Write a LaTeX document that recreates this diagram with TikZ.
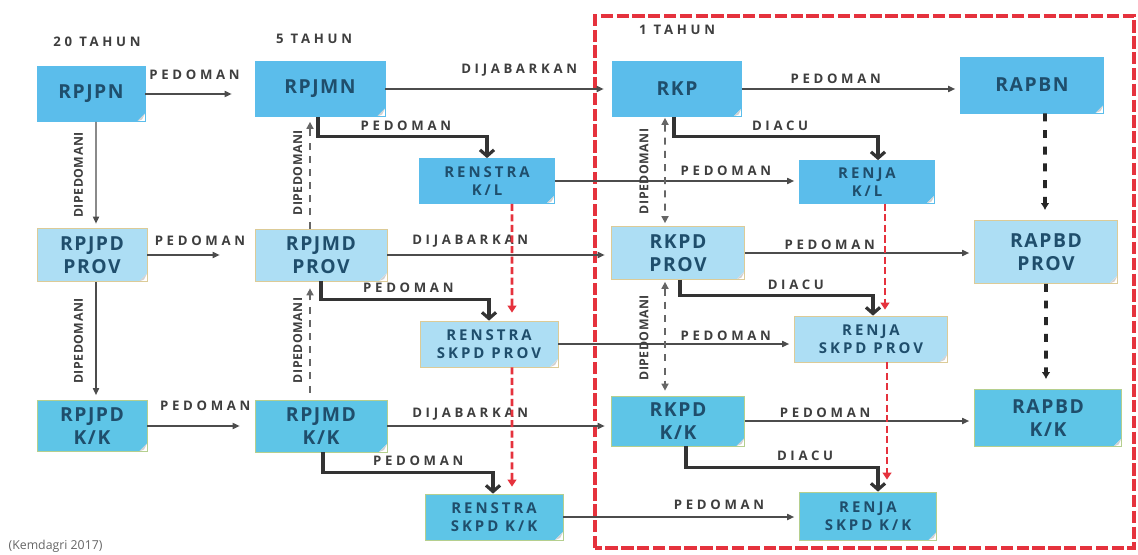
\documentclass[tikz,border=0pt]{standalone}
\usepackage{fontspec}
\setmainfont{Open Sans}[LetterSpace=8]
\newfontfamily\lblfont{Open Sans}[LetterSpace=28]
\newfontfamily\vlblfont{Open Sans}[LetterSpace=4]
\newfontfamily\smallfont{Open Sans}[LetterSpace=20]
\newfontfamily\srcfont{Open Sans}
\usetikzlibrary{arrows.meta}
\definecolor{natblue}{HTML}{5BBDEB}
\definecolor{provblue}{HTML}{ADDEF4}
\definecolor{kkblue}{HTML}{5EC5E7}
\definecolor{provedge}{HTML}{DCCB97}
\definecolor{kkedge}{HTML}{B5CF8E}
\definecolor{boxtext}{HTML}{1F4E6C}
\definecolor{lbltext}{HTML}{3E3E3E}
\definecolor{framered}{HTML}{E5323D}
\tikzstyle{box}=[rectangle,align=center,inner sep=1pt,text=boxtext,font=\bfseries\fontsize{11}{13}\selectfont,
	path picture={\fill[white] (path picture bounding box.south east) -- ++(-.16,0) -- ++(.16,.16) -- cycle;
		\fill[black!18] (path picture bounding box.south east) ++(-.16,0) -- ++(.16,.16) -- ++(-.06,-.12) -- cycle;}]
\tikzstyle{smallbox}=[box,font=\smallfont\bfseries\fontsize{8.5}{10.5}\selectfont]
\tikzstyle{nat}=[fill=natblue,draw=natblue]
\tikzstyle{prov}=[fill=provblue,draw=provedge]
\tikzstyle{kk}=[fill=kkblue,draw=kkedge]
\tikzstyle{lbl}=[font=\lblfont\bfseries\fontsize{7.5}{8}\selectfont,text=lbltext,inner sep=1pt]
\tikzstyle{vlbl}=[font=\vlblfont\bfseries\fontsize{7}{8}\selectfont,text=lbltext,inner sep=1pt,rotate=90]
\tikzstyle{ttl}=[font=\lblfont\bfseries\fontsize{7.5}{9}\selectfont,text=lbltext]
\tikzstyle{garr}=[draw=black!70,line width=.8pt,-{Triangle[length=4pt,width=3.5pt]}]
\tikzstyle{thk}=[draw=black!80,line width=1.8pt,-{Straight Barb[length=3.5pt,width=8pt]}]
\tikzstyle{gdash}=[draw=black!60,line width=.9pt,dash pattern=on 4pt off 3.5pt,{Triangle[length=4pt,width=4pt]}-{Triangle[length=4pt,width=4pt]}]
\tikzstyle{gdashup}=[draw=black!60,line width=.9pt,dash pattern=on 4pt off 3.5pt,-{Triangle[length=4pt,width=4pt]}]
\tikzstyle{bdash}=[draw=black!85,line width=2.2pt,dash pattern=on 4.5pt off 5pt,-{Latex[length=4pt,width=5pt]}]
\tikzstyle{rdash}=[draw=framered,line width=1.5pt,dash pattern=on 4pt off 2pt,-{Triangle[length=4pt,width=5pt]}]

\begin{document}
\begin{tikzpicture}
	\useasboundingbox (0,0) rectangle (22.76,11.08);
	\draw[framered,line width=1.8pt,dash pattern=on 7pt off 2pt] (11.9,0.12) rectangle (22.68,10.76);
	\node[ttl] (t20) at (1.94,10.24) {20 TAHUN};
	\node[ttl] (t5) at (6.28,10.3) {5 TAHUN};
	\node[ttl] (t1) at (13.54,10.48) {1 TAHUN};
	\node[anchor=west,font=\srcfont\fontsize{7}{8}\selectfont,text=black!60] (src) at (0.05,0.16) {(Kemdagri 2017)};
	\node[box,nat,minimum width=2.16cm,minimum height=1.1cm] (rpjpn) at (1.82,9.2) {RPJPN};
	\node[box,nat,minimum width=2.6cm,minimum height=1.1cm] (rpjmn) at (6.4,9.3) {RPJMN};
	\node[box,nat,minimum width=2.58cm,minimum height=1.1cm] (rkp) at (13.54,9.3) {RKP};
	\node[box,nat,minimum width=2.86cm,minimum height=1.12cm] (rapbn) at (20.64,9.38) {RAPBN};
	\node[smallbox,nat,minimum width=2.7cm,minimum height=.9cm] (renkl) at (9.74,7.46) {RENSTRA\\K/L};
	\node[smallbox,nat,minimum width=2.7cm,minimum height=.86cm] (renjakl) at (17.34,7.44) {RENJA\\K/L};
	\node[box,prov,minimum width=2.2cm,minimum height=1.06cm] (rpjpdp) at (1.84,5.98) {RPJPD\\PROV};
	\node[box,prov,minimum width=2.64cm,minimum height=1.04cm] (rpjmdp) at (6.42,5.98) {RPJMD\\PROV};
	\node[box,prov,minimum width=2.66cm,minimum height=1.06cm] (rkpdp) at (13.56,6.02) {RKPD\\PROV};
	\node[box,prov,minimum width=2.86cm,minimum height=1.26cm] (rapbdp) at (20.92,6.04) {RAPBD\\PROV};
	\node[smallbox,prov,minimum width=2.76cm,minimum height=.92cm] (renp) at (9.78,4.2) {RENSTRA\\SKPD PROV};
	\node[smallbox,prov,minimum width=3.06cm,minimum height=.92cm] (renjap) at (17.42,4.3) {RENJA\\SKPD PROV};
	\node[box,kk,minimum width=2.2cm,minimum height=1.02cm] (rpjpdk) at (1.84,2.56) {RPJPD\\K/K};
	\node[box,kk,minimum width=2.64cm,minimum height=1.04cm] (rpjmdk) at (6.42,2.56) {RPJMD\\K/K};
	\node[box,kk,minimum width=2.66cm,minimum height=1cm] (rkpdk) at (13.56,2.66) {RKPD\\K/K};
	\node[box,kk,minimum width=2.94cm,minimum height=1.14cm] (rapbdk) at (20.96,2.72) {RAPBD\\K/K};
	\node[smallbox,kk,minimum width=2.76cm,minimum height=.92cm] (renk) at (9.88,.74) {RENSTRA\\SKPD K/K};
	\node[smallbox,kk,minimum width=2.74cm,minimum height=.96cm] (renjak) at (17.36,.76) {RENJA\\SKPD K/K};

	\draw[garr,shorten >=.46cm] (rpjpn.east) -- node[lbl,pos=.45,above=7pt] {PEDOMAN} (rpjpn.east -| rpjmn.west);
	\draw[garr,shorten >=.17cm] (rpjmn.east) -- node[lbl,pos=.59,above=6pt] {DIJABARKAN} (rpjmn.east -| rkp.west);
	\draw[garr,shorten >=.1cm] (rkp.east) -- node[lbl,pos=.43,above=1.5pt] {PEDOMAN} (rkp.east -| rapbn.west);
	\draw[garr,shorten >=.1cm] (renkl.east) -- node[lbl,pos=.7,above=1.5pt] {PEDOMAN} (renkl.east -| renjakl.west);
	\draw[garr,shorten >=.7cm] (rpjpdp.east) -- node[lbl,pos=.49,above=4pt] {PEDOMAN} (rpjpdp.east -| rpjmdp.west);
	\draw[garr,shorten >=.13cm] (rpjmdp.east) -- node[lbl,pos=.37,above=3pt] {DIJABARKAN} (rpjmdp.east -| rkpdp.west);
	\draw[garr,shorten >=.1cm] (rkpdp.east) -- node[lbl,pos=.37,above=.5pt] {PEDOMAN} (rkpdp.east -| rapbdp.west);
	\draw[garr,shorten >=.1cm] (renp.east) -- node[lbl,pos=.71,above=.5pt] {PEDOMAN} (renp.east -| renjap.west);
	\draw[garr,shorten >=.3cm] (rpjpdk.east) -- node[lbl,pos=.54,above=7.5pt] {PEDOMAN} (rpjpdk.east -| rpjmdk.west);
	\draw[garr,shorten >=.13cm] (rpjmdk.east) -- node[lbl,pos=.37,above=2pt] {DIJABARKAN} (rpjmdk.east -| rkpdk.west);
	\draw[garr,shorten >=.1cm] (rkpdk.east) -- node[lbl,pos=.35,above=.5pt] {PEDOMAN} (rkpdk.east -| rapbdk.west);
	\draw[garr,shorten >=.1cm] (renk.east) -- node[lbl,pos=.66,above=3pt] {PEDOMAN} (renk.east -| renjak.west);

	\draw[garr,shorten >=.09cm] ([xshift=.1cm]rpjpn.south) -- node[vlbl,above=6pt] {DIPEDOMANI} ([xshift=.08cm]rpjpdp.north);
	\draw[garr,shorten >=.1cm] ([xshift=.08cm]rpjpdp.south) -- node[vlbl,above=6pt] {DIPEDOMANI} ([xshift=.08cm]rpjpdk.north);
	\draw[gdashup,shorten >=.1cm] ([xshift=-.22cm]rpjmdp.north) -- node[vlbl,above=3pt] {DIPEDOMANI} ([xshift=-.2cm]rpjmn.south);
	\draw[gdashup,shorten >=.14cm,shorten <=.14cm] ([xshift=-.22cm]rpjmdk.north) -- node[vlbl,above=3pt] {DIPEDOMANI} ([xshift=-.22cm]rpjmdp.south);
	\draw[gdash,shorten >=.06cm,shorten <=.02cm] ([xshift=-.24cm]rkp.south) -- node[vlbl,above=8pt] {DIPEDOMANI} ([xshift=-.26cm]rkpdp.north);
	\draw[gdash,shorten >=.1cm,shorten <=.04cm] ([xshift=-.26cm]rkpdp.south) -- node[vlbl,above=8pt] {DIPEDOMANI} ([xshift=-.26cm]rkpdk.north);

	\draw[thk] ([xshift=-.04cm]rpjmn.south) -- ++(0,-.4) -| node[lbl,pos=.26,above=1.5pt] {PEDOMAN} (renkl.north);
	\draw[thk] (rpjmdp.south) -- ++(0,-.36) -| node[lbl,pos=.26,above=2pt] {PEDOMAN} (renp.north);
	\draw[thk] ([xshift=.04cm]rpjmdk.south) -- ++(0,-.4) -| node[lbl,pos=.28,above=2pt] {PEDOMAN} ([xshift=-.02cm]renk.north);
	\draw[thk] ([xshift=-.06cm]rkp.south) -- ++(0,-.4) -| node[lbl,pos=.26,above=1.5pt] {DIACU} ([xshift=.22cm]renjakl.north);
	\draw[thk] ([xshift=.04cm]rkpdp.south) -- ++(0,-.32) -| node[lbl,pos=.3,above=1.5pt] {DIACU} ([xshift=.04cm]renjap.north);
	\draw[thk] ([xshift=.16cm]rkpdk.south) -- ++(0,-.42) -| node[lbl,pos=.31,above=2pt] {DIACU} ([xshift=.2cm]renjak.north);

	\draw[bdash,shorten >=.2cm] ([xshift=.26cm]rapbn.south) -- ([xshift=-.02cm]rapbdp.north);
	\draw[bdash,shorten >=.2cm] (rapbdp.south) -- ([xshift=-.04cm]rapbdk.north);

	\draw[rdash,shorten >=.16cm] ([xshift=.5cm]renkl.south) -- ([xshift=.46cm]renp.north);
	\draw[rdash,shorten >=.14cm] ([xshift=.46cm]renp.south) -- ([xshift=.36cm]renk.north);
	\draw[rdash,shorten >=.12cm] ([xshift=.36cm]renjakl.south) -- ([xshift=.28cm]renjap.north);
	\draw[rdash,shorten >=.24cm] ([xshift=.32cm]renjap.south) -- ([xshift=.38cm]renjak.north);
\end{tikzpicture}
\end{document}
